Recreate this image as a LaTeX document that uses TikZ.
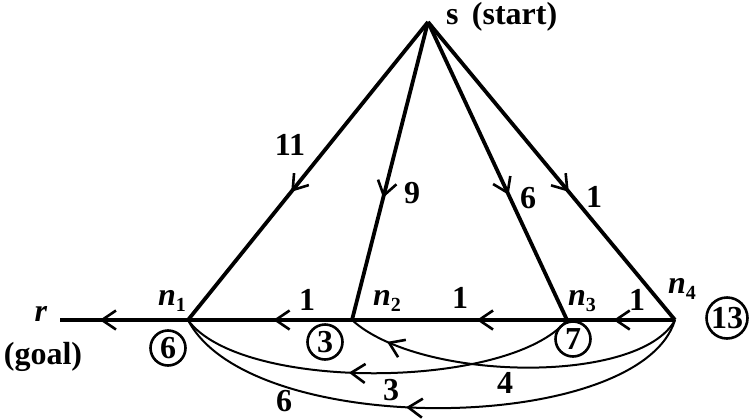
\documentclass[tikz,border=0pt]{standalone}
\usepackage{fontspec}
\setmainfont{Liberation Serif}
\usetikzlibrary{arrows.meta,decorations.markings}
\newcommand\nsub[1]{\textit{n}\raisebox{-6pt}{\fontsize{20}{20}\selectfont #1}}
\tikzset{
  edge/.style={line width=3.8pt},
  cedge/.style={line width=2pt},
  midarrow/.style={postaction={decorate,decoration={markings,
      mark=at position #1 with {\arrow{Straight Barb[length=14pt,width=19pt,line width=2.6pt]}}}}},
  lbl/.style={font=\fontsize{32}{38}\selectfont\bfseries, inner sep=0pt, anchor=base},
  circ/.style={draw, circle, line width=2.6pt, minimum size=35pt, inner sep=0pt,
      font=\fontsize{32}{38}\selectfont\bfseries},
}
\begin{document}
\begin{tikzpicture}[x=1pt,y=-1pt]
\useasboundingbox (0,0) rectangle (755,418);
% vertices
\coordinate (s) at (428,22);
\coordinate (n1) at (188,320);
\coordinate (n2) at (352,320);
\coordinate (n3) at (567,320);
\coordinate (n4) at (675,320);
\coordinate (r) at (60,320);
% edges from s
\draw[edge,midarrow=0.57] (s) -- (n1);
\draw[edge,midarrow=0.59] (s) -- (n2);
\draw[edge,midarrow=0.58] (s) -- (n3);
\draw[edge,midarrow=0.57] (s) -- (n4);
% horizontal edges
\draw[edge,midarrow=0.57] (n4) -- (n3);
\draw[edge,midarrow=0.42] (n3) -- (n2);
\draw[edge,midarrow=0.48] (n2) -- (n1);
\draw[edge,midarrow=0.69] (n1) -- (r);
% curved edges
\draw[cedge,midarrow=0.57] (n3) .. controls (510,390) and (240,392) .. (n1);
\draw[cedge,midarrow=0.88] (n4) .. controls (640,385) and (420,382) .. (n2);
\draw[cedge,midarrow=0.55] (n4) .. controls (640,435) and (250,440) .. (n1);
% circled values
\node[circ] (c6) at (168,348) {6};
\node[circ] (c3) at (325,342) {3};
\node[circ] (c7) at (573,339) {7};
\node[circ,minimum size=41pt] (c13) at (727,318) {13};
% vertex labels
\node[lbl,anchor=base west] (ls) at (446,24) {s\ \,(start)};
\node[lbl] (lr) at (41,321) {\textit{r}};
\node[lbl] (lgoal) at (43,364) {(goal)};
\node[lbl] (ln1) at (172,305) {\nsub{1}};
\node[lbl] (ln2) at (387,305) {\nsub{2}};
\node[lbl] (ln3) at (582,305) {\nsub{3}};
\node[lbl] (ln4) at (682,293) {\nsub{4}};
% edge weights
\node[lbl] (w11) at (290,155) {11};
\node[lbl] (w9) at (412,203) {9};
\node[lbl] (w6a) at (528,208) {6};
\node[lbl] (w1a) at (594,207) {1};
\node[lbl] (w1b) at (307,310) {1};
\node[lbl] (w1c) at (460,308) {1};
\node[lbl] (w1d) at (637,310) {1};
\node[lbl] (w3) at (391,400) {3};
\node[lbl] (w4) at (505,393) {4};
\node[lbl] (w6b) at (284,411) {6};
\end{tikzpicture}
\end{document}
